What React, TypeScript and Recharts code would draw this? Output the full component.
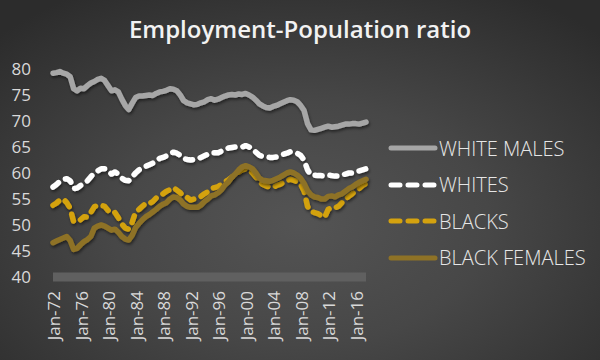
import { LineChart, Line, XAxis, YAxis } from "recharts";

const years = [
  72, 73, 74, 75, 76, 77, 78, 79, 80, 81, 82, 83, 84, 85, 86, 87, 88, 89, 90, 91, 92, 93,
  94, 95, 96, 97, 98, 99, 0, 1, 2, 3, 4, 5, 6, 7, 8, 9, 10, 11, 12, 13, 14, 15, 16, 17,
];

// two readings per year: Jan, Jul
const whiteMales = [
  79.2, 79.3, 79.5, 79.2, 79.0, 78.5, 76.2, 75.8, 76.3, 76.2, 76.8, 77.3, 77.6, 78.0, 78.2, 77.8,
  76.8, 75.8, 76.0, 75.6, 74.2, 73.0, 72.2, 73.4, 74.5, 74.8, 74.8, 74.9, 75.0, 74.9, 75.3, 75.6,
  75.7, 75.9, 76.2, 76.1, 75.8, 75.0, 73.9, 73.5, 73.3, 73.1, 73.2, 73.5, 73.7, 74.1, 74.3, 74.0,
  74.2, 74.5, 74.8, 75.0, 75.1, 75.0, 75.2, 75.1, 75.3, 75.0, 74.6, 74.0, 73.3, 72.9, 72.6, 72.5,
  72.8, 73.0, 73.3, 73.6, 73.9, 74.1, 74.0, 73.7, 73.0, 72.0, 69.5, 68.3, 68.2, 68.4, 68.6, 68.8,
  69.0, 68.8, 68.9, 69.0, 69.2, 69.4, 69.4, 69.5, 69.5, 69.4, 69.6, 69.8,
];

const whites = [
  57.3, 57.8, 58.4, 58.8, 58.9, 58.5, 57.0, 57.1, 57.6, 58.0, 58.5, 59.3, 60.0, 60.4, 60.8, 60.8,
  60.5, 59.8, 60.2, 59.8, 59.0, 58.6, 58.5, 59.3, 60.0, 60.6, 61.0, 61.3, 61.6, 61.9, 62.3, 62.8,
  63.0, 63.3, 63.8, 64.0, 63.8, 63.4, 62.8, 62.6, 62.5, 62.6, 62.7, 63.0, 63.3, 63.6, 63.9, 63.9,
  63.9, 64.2, 64.5, 64.8, 64.9, 65.0, 65.0, 65.0, 65.3, 65.0, 64.6, 64.0, 63.4, 63.2, 63.1, 63.0,
  63.0, 63.1, 63.3, 63.6, 63.8, 64.1, 64.0, 63.8, 63.4, 62.5, 60.6, 59.6, 59.6, 59.5, 59.5, 59.4,
  59.6, 59.5, 59.4, 59.4, 59.6, 59.8, 60.0, 60.0, 60.3, 60.4, 60.6, 60.8,
];

const blacks = [
  53.8, 54.2, 54.8, 55.0, 54.3, 53.2, 50.6, 50.8, 51.0, 51.6, 51.5, 52.4, 53.5, 53.8, 53.8, 53.6,
  52.8, 52.2, 52.4, 51.4, 50.2, 49.4, 49.2, 50.5, 52.5, 53.0, 53.6, 54.2, 54.1, 54.5, 55.2, 55.6,
  56.0, 56.5, 56.8, 57.2, 56.7, 56.2, 55.5, 55.3, 54.8, 55.0, 55.2, 55.5, 56.0, 56.4, 57.0, 57.2,
  57.4, 57.8, 58.3, 58.7, 59.2, 59.6, 60.2, 60.6, 60.8, 60.5, 60.0, 59.2, 58.3, 57.8, 57.5, 57.3,
  57.2, 57.6, 57.8, 58.2, 58.5, 58.8, 58.6, 58.3, 57.8, 56.5, 53.6, 52.6, 52.4, 52.2, 51.8, 51.5,
  53.0, 53.4, 53.3, 53.6, 54.3, 55.0, 55.5, 56.0, 56.6, 57.0, 57.6, 58.0,
];

const blackFemales = [
  46.6, 46.9, 47.2, 47.5, 47.8, 47.0, 45.3, 45.5, 46.2, 46.8, 47.2, 47.8, 49.4, 49.8, 50.0, 49.8,
  49.4, 49.0, 49.2, 48.6, 47.8, 47.3, 47.1, 48.0, 49.5, 50.3, 51.0, 51.6, 52.0, 52.5, 53.0, 53.6,
  54.0, 54.3, 55.0, 55.4, 55.3, 54.8, 54.0, 53.6, 53.4, 53.4, 53.4, 53.8, 54.5, 55.0, 55.6, 55.8,
  56.2, 56.8, 57.7, 58.3, 59.2, 59.8, 60.6, 61.2, 61.4, 61.2, 60.8, 60.0, 59.0, 58.6, 58.5, 58.4,
  58.6, 58.9, 59.2, 59.6, 60.0, 60.2, 60.0, 59.6, 59.0, 58.0, 56.6, 55.8, 55.4, 55.3, 55.0, 55.0,
  55.5, 55.6, 55.4, 55.8, 56.0, 56.5, 57.0, 57.3, 57.8, 58.2, 58.5, 58.8,
];

const yTicks = [40, 45, 50, 55, 60, 65, 70, 75, 80];

const months = years.flatMap((y) => {
  const yy = String(y).padStart(2, "0");
  return ["Jan-" + yy, "Jul-" + yy];
});

const data = months.map((m, i) => ({
  month: m,
  wm: whiteMales[i],
  wh: whites[i],
  bl: blacks[i],
  bf: blackFemales[i],
}));

const series = [
  { key: "wm", name: "WHITE MALES", color: "#a6a6a6", dash: undefined },
  { key: "wh", name: "WHITES", color: "#ffffff", dash: "7 8" },
  { key: "bl", name: "BLACKS", color: "#d4a20f", dash: "7 8" },
  { key: "bf", name: "BLACK FEMALES", color: "#8e7226", dash: undefined },
];

const font = "'Open Sans', 'Noto Sans', sans-serif";

function LegendBox() {
  return (
    <div style={{ position: "absolute", left: 386, top: 130, fontFamily: font }}>
      {series.map((s) => (
        <div key={s.key} style={{ display: "flex", alignItems: "center", height: 36.5 }}>
          <svg width={52} height={10}>
            <line
              x1={5}
              y1={5}
              x2={49}
              y2={5}
              stroke={s.color}
              strokeWidth={5}
              strokeLinecap="round"
              strokeDasharray={s.dash ? "9 8" : undefined}
            />
          </svg>
          <span style={{ color: "#e6e6e6", fontSize: 20, fontWeight: 300, marginLeft: 1 }}>{s.name}</span>
        </div>
      ))}
    </div>
  );
}

export default function App() {
  return (
    <div
      style={{
        position: "absolute",
        left: 0,
        top: 0,
        width: 600,
        height: 360,
        background: "radial-gradient(ellipse 70% 75% at 50% 62%, #545454 0%, #474747 45%, #2c2c2c 100%)",
        overflow: "hidden",
      }}
    >
      <div
        style={{
          position: "absolute",
          top: 12,
          width: 600,
          textAlign: "center",
          color: "#f2f2f2",
          fontFamily: font,
          fontSize: 24,
          fontWeight: 600,
        }}
      >
        Employment-Population ratio
      </div>
      <LegendBox />
      <LineChart width={600} height={360} data={data} margin={{ top: 69, right: 234, left: 0, bottom: 5 }}>
        <defs>
          <filter id="shadow" x="-5%" y="-5%" width="110%" height="120%">
            <feDropShadow dx="1" dy="2" stdDeviation="1.5" floodColor="#000" floodOpacity="0.5" />
          </filter>
        </defs>
        <XAxis
          dataKey="month"
          interval={7}
          angle={-90}
          textAnchor="end"
          height={78}
          tickLine={false}
          axisLine={{ stroke: "#606060", strokeWidth: 9 }}
          tick={{ fill: "#d9d9d9", fontSize: 17, fontFamily: font, dx: -5, dy: 6 }}
        />
        <YAxis
          domain={[40, 80]}
          ticks={yTicks}
          width={53}
          axisLine={false}
          tickLine={false}
          tickMargin={16}
          tick={{ fill: "#d9d9d9", fontSize: 17, fontFamily: font }}
        />
        {series.map((s) => (
          <Line
            key={s.key}
            dataKey={s.key}
            name={s.name}
            stroke={s.color}
            strokeWidth={5.5}
            strokeDasharray={s.dash}
            strokeLinecap="round"
            strokeLinejoin="round"
            dot={false}
            filter="url(#shadow)"
            isAnimationActive={false}
          />
        ))}
      </LineChart>
    </div>
  );
}
